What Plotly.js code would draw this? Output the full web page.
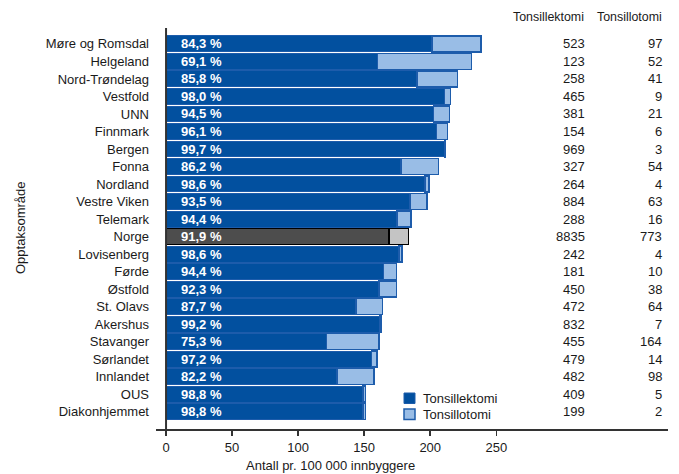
<!DOCTYPE html>
<html>
<head>
<meta charset="utf-8">
<script src="https://cdn.plot.ly/plotly-3.0.1.min.js"></script>
<style>html,body{margin:0;padding:0;background:#fff;}#chart{width:679px;height:474px;}</style>
</head>
<body>
<div id="chart"></div>
<script>
var regions = ["Møre og Romsdal","Helgeland","Nord-Trøndelag","Vestfold","UNN","Finnmark","Bergen","Fonna","Nordland","Vestre Viken","Telemark","Norge","Lovisenberg","Førde","Østfold","St. Olavs","Akershus","Stavanger","Sørlandet","Innlandet","OUS","Diakonhjemmet"];
var ectomyRate = [201.3,160.1,189.9,210.9,202.6,204.8,210.8,177.8,196.2,184.7,175.0,168.7,176.3,164.7,161.1,143.7,161.6,121.3,155.4,129.3,149.2,149.2];
var otomyRate  = [37.1,71.2,30.8,4.3,11.8,8.3,0.6,28.5,2.8,12.8,10.4,14.9,2.5,9.8,13.4,20.2,1.3,39.8,4.4,28.0,1.8,1.8];
var pctLabels = ["84,3 %","69,1 %","85,8 %","98,0 %","94,5 %","96,1 %","99,7 %","86,2 %","98,6 %","93,5 %","94,4 %","91,9 %","98,6 %","94,4 %","92,3 %","87,7 %","99,2 %","75,3 %","97,2 %","82,2 %","98,8 %","98,8 %"];
var ectomyCount = ["523","123","258","465","381","154","969","327","264","884","288","8835","242","181","450","472","832","455","479","482","409","199"];
var otomyCount  = ["97","52","41","9","21","6","3","54","4","63","16","773","4","10","38","64","7","164","14","98","5","2"];
var tickValues = [0,50,100,150,200,250];
var seriesNames = ["Tonsillektomi","Tonsillotomi"];

var W = 679, H = 474, L = 156, R = 11, T = 28, B = 45;
var pw = W - L - R, ph = H - T - B;
function px(x){ return (x - L) / pw; }
function py(y){ return (H - B - y) / ph; }

var darkCol = regions.map(function(r){ return r === "Norge" ? "#4d4d4d" : "#02509f"; });
var lightCol = regions.map(function(r){ return r === "Norge" ? "#c4c4c4" : "#99bde6"; });
var lineCol = regions.map(function(r){ return r === "Norge" ? "#000000" : "#1d5cab"; });

var traces = [
  {type:"bar", orientation:"h", name:seriesNames[0], y:regions, x:ectomyRate,
   marker:{color:darkCol, line:{color:lineCol, width:1}}, hoverinfo:"skip"},
  {type:"bar", orientation:"h", name:seriesNames[1], y:regions, x:otomyRate,
   marker:{color:lightCol, line:{color:lineCol, width:1.5}}, hoverinfo:"skip"}
];

var font = "Liberation Sans, Arial, sans-serif";
var txt = "#1a1a1a";
var ann = [];
regions.forEach(function(r, i){
  ann.push({x:0, y:r, xref:"x", yref:"y", text:pctLabels[i], showarrow:false, xanchor:"left", xshift:13,
    font:{family:font, size:13, color:"#ffffff", weight:"bold"}});
  ann.push({x:px(587), y:r, xref:"paper", yref:"y", text:ectomyCount[i], showarrow:false, xanchor:"right",
    font:{family:font, size:13, color:txt}});
  ann.push({x:px(664), y:r, xref:"paper", yref:"y", text:otomyCount[i], showarrow:false, xanchor:"right",
    font:{family:font, size:13, color:txt}});
});
ann.push({x:px(586), y:py(17), xref:"paper", yref:"paper", text:seriesNames[0], showarrow:false, xanchor:"right", yanchor:"middle",
  font:{family:font, size:12.4, color:txt}});
ann.push({x:px(664), y:py(17), xref:"paper", yref:"paper", text:seriesNames[1], showarrow:false, xanchor:"right", yanchor:"middle",
  font:{family:font, size:12.4, color:txt}});
ann.push({x:px(20), y:py(228), xref:"paper", yref:"paper", text:"Opptaksområde", showarrow:false, textangle:-90,
  xanchor:"center", yanchor:"middle", font:{family:font, size:13, color:txt}});
ann.push({x:px(330), y:py(465), xref:"paper", yref:"paper", text:"Antall pr. 100 000 innbyggere", showarrow:false,
  xanchor:"center", yanchor:"middle", font:{family:font, size:13, color:txt}});
// legend (drawn manually)
ann.push({x:px(421), y:py(398), xref:"paper", yref:"paper", text:seriesNames[0], showarrow:false,
  xanchor:"left", yanchor:"middle", font:{family:font, size:13, color:txt}});
ann.push({x:px(421), y:py(414), xref:"paper", yref:"paper", text:seriesNames[1], showarrow:false,
  xanchor:"left", yanchor:"middle", font:{family:font, size:13, color:txt}});

var layout = {
  width:W, height:H, margin:{l:L, r:R, t:T, b:B, pad:0},
  paper_bgcolor:"#ffffff", plot_bgcolor:"#ffffff",
  barmode:"stack", bargap:0.09,
  font:{family:font, size:13, color:txt},
  showlegend:false,
  xaxis:{range:[-7.6, 380], tickvals:tickValues, ticktext:tickValues.map(String), showgrid:false, zeroline:false,
    showline:true, linecolor:"#333333", linewidth:2, ticks:"outside", ticklen:5, tickwidth:1.5, tickcolor:"#333333",
    tickfont:{family:font, size:13, color:txt}, fixedrange:true},
  yaxis:{type:"category", range:[21.99, -0.91], showgrid:false, zeroline:false, showline:false, ticks:"",
    tickfont:{family:font, size:13, color:txt}, ticklabelstandoff:6, fixedrange:true},
  shapes:[
    {type:"line", xref:"x", yref:"paper", x0:0, x1:0, y0:0, y1:1, line:{color:"#333333", width:2}},
    {type:"rect", xref:"paper", yref:"paper", x0:px(404), x1:px(415), y0:py(403.5), y1:py(393), fillcolor:"#02509f", line:{color:"#1d5cab", width:1}},
    {type:"rect", xref:"paper", yref:"paper", x0:px(404), x1:px(415), y0:py(419.5), y1:py(409), fillcolor:"#99bde6", line:{color:"#1d5cab", width:1.5}}
  ],
  annotations:ann
};

Plotly.newPlot("chart", traces, layout, {displayModeBar:false, staticPlot:true});
</script>
</body>
</html>
